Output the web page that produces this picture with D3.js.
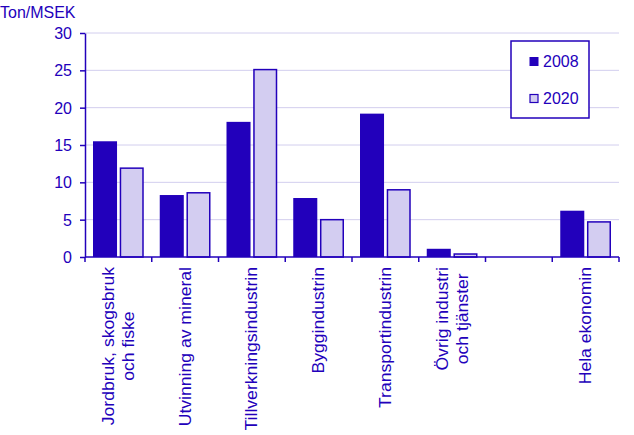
<!DOCTYPE html>
<html><head><meta charset="utf-8">
<script src="https://cdn.jsdelivr.net/npm/d3@7"></script>
<style>body{margin:0;background:#fff}svg{display:block;font-family:"Liberation Sans",Arial,sans-serif}</style>
</head><body>
<svg id="c" width="634" height="435"></svg>
<script>
const categories = [["Jordbruk, skogsbruk","och fiske"],["Utvinning av mineral"],["Tillverkningsindustrin"],["Byggindustrin"],["Transportindustrin"],["Övrig industri","och tjänster"],[""],["Hela ekonomin"]];
const series = ["2008","2020"];
const values2008 = [15.5, 8.3, 18.1, 7.9, 19.2, 1.1, null, 6.2];
const values2020 = [12.0, 8.7, 25.2, 5.1, 9.1, 0.5, null, 4.8];
const yTicks = [0,5,10,15,20,25,30];
const unitLabel = "Ton/MSEK";

const dark = "#2200bb", light = "#d3cdf1", grid = "#d2ceee", textC = "#2200bb";
const SY = 1.08; // vertical stretch of the reference text
const svg = d3.select("#c");
const L = 85, R = 619, T = 33, B = 257;
const x0 = d3.scaleBand().domain(d3.range(categories.length)).range([L, R]).padding(0);
const x1 = d3.scaleBand().domain(series).range([8, x0.bandwidth() - 8]).paddingInner(0.1);
const y = d3.scaleLinear().domain([0, 30]).range([B, T]);

function htext(parent, x, yy, s, anchor) {
  return parent.append("text").attr("transform", `translate(${x},${yy}) scale(1,${SY})`)
    .attr("font-size", 16).attr("fill", textC).attr("text-anchor", anchor || "start").text(s);
}

// gridlines
svg.append("g").selectAll("line").data(yTicks.filter(d => d > 0)).join("line")
  .attr("x1", L).attr("x2", R).attr("y1", d => y(d)).attr("y2", d => y(d))
  .attr("stroke", grid).attr("stroke-width", 1);

// bars
const data = categories.map((c, i) => ({i, vals: [values2008[i], values2020[i]]}));
const g = svg.append("g").selectAll("g").data(data).join("g").attr("transform", d => `translate(${x0(d.i)},0)`);
g.selectAll("rect").data(d => d.vals.map((v, k) => ({v, k})).filter(e => e.v != null)).join("rect")
  .attr("x", e => x1(series[e.k]) + (e.k ? 0.75 : 0))
  .attr("width", e => x1.bandwidth() - (e.k ? 1.5 : 0))
  .attr("y", e => y(e.v) + (e.k ? 0.75 : 0))
  .attr("height", e => y(0) - y(e.v) - (e.k ? 0.75 : 0))
  .attr("fill", e => e.k ? light : dark)
  .attr("stroke", e => e.k ? dark : "none").attr("stroke-width", 1.5);

// y axis
const ya = svg.append("g").attr("transform", `translate(${L},0)`)
  .call(d3.axisLeft(y).tickValues(yTicks).tickSize(5).tickSizeOuter(0).tickFormat(""));
ya.select(".domain").attr("stroke", dark).attr("stroke-width", 1.5);
ya.selectAll(".tick line").attr("stroke", dark).attr("stroke-width", 1.5);
yTicks.forEach(t => htext(svg, 72, y(t) + 6, String(t), "end"));

// x axis
const xa = svg.append("g").attr("transform", `translate(0,${B})`);
xa.append("line").attr("x1", L).attr("x2", R).attr("stroke", dark).attr("stroke-width", 1.5);
xa.selectAll("line.t").data(d3.range(categories.length + 1)).join("line").attr("class", "t")
  .attr("x1", i => i < categories.length ? x0(i) : R).attr("x2", i => i < categories.length ? x0(i) : R)
  .attr("y1", 0).attr("y2", 5).attr("stroke", dark).attr("stroke-width", 1.5);

// x labels
categories.forEach((lines, i) => {
  const cx = x0(i) + x0.bandwidth() / 2;
  const lg = svg.append("g").attr("transform", `translate(0,267) scale(1,1.1) rotate(-90)`);
  const texts = lines.map((s, j) => lg.append("text").text(s)
    .attr("font-size", 16).attr("fill", textC).attr("text-anchor", "middle")
    .attr("y", cx + (j - (lines.length - 1) / 2) * 20).attr("dy", "0.35em"));
  const W = d3.max(texts, t => t.node().getComputedTextLength());
  texts.forEach(t => t.attr("x", -W / 2));
});

// unit label
htext(svg, 0, 18, unitLabel);

// legend
const lgd = svg.append("g");
lgd.append("rect").attr("x", 511).attr("y", 41).attr("width", 78).attr("height", 77)
  .attr("fill", "#fff").attr("stroke", dark).attr("stroke-width", 1.5);
series.forEach((s, k) => {
  const yy = k ? 94 : 57;
  lgd.append("rect").attr("x", 529.5 + (k ? 0.5 : 0)).attr("y", yy + (k ? 0.5 : 0))
    .attr("width", k ? 8 : 9).attr("height", k ? 8 : 9)
    .attr("fill", k ? light : dark).attr("stroke", k ? dark : "none").attr("stroke-width", 1.2);
  htext(lgd, 543, yy + 9.5, s);
});
</script>
</body></html>
